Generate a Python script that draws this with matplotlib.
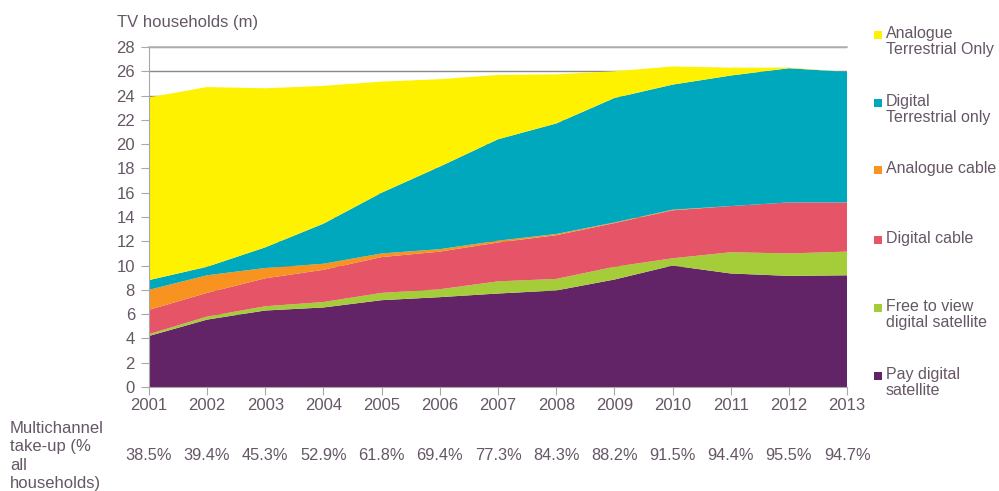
import matplotlib
matplotlib.use("Agg")
import matplotlib.pyplot as plt
from matplotlib.patches import Rectangle

plt.rcParams['font.family'] = ['Liberation Sans', 'DejaVu Sans']

years = [2001, 2002, 2003, 2004, 2005, 2006, 2007, 2008, 2009, 2010, 2011, 2012, 2013]

# Households by platform, millions (stacked bottom to top)
pay_digital_sat = [4.2, 5.55, 6.3, 6.55, 7.15, 7.4, 7.7, 7.95, 8.85, 10.0, 9.35, 9.15, 9.2]
free_digital_sat = [0.15, 0.25, 0.35, 0.45, 0.6, 0.65, 1.0, 0.95, 1.05, 0.6, 1.75, 1.85, 1.95]
digital_cable = [2.0, 1.95, 2.3, 2.65, 2.95, 3.1, 3.2, 3.6, 3.6, 3.95, 3.8, 4.2, 4.05]
analogue_cable = [1.65, 1.45, 0.85, 0.5, 0.3, 0.2, 0.15, 0.1, 0.05, 0.05, 0.0, 0.0, 0.0]
digital_terr = [0.8, 0.7, 1.7, 3.3, 5.0, 6.8, 8.35, 9.1, 10.25, 10.3, 10.75, 11.05, 10.75]
analogue_terr = [15.05, 14.8, 13.1, 11.35, 9.15, 7.2, 5.3, 4.05, 2.2, 1.5, 0.65, 0.05, 0.0]

takeup = ["38.5%", "39.4%", "45.3%", "52.9%", "61.8%", "69.4%", "77.3%",
          "84.3%", "88.2%", "91.5%", "94.4%", "95.5%", "94.7%"]

series_labels = ["Pay digital\nsatellite", "Free to view\ndigital satellite", "Digital cable",
                 "Analogue cable", "Digital\nTerrestrial only", "Analogue\nTerrestrial Only"]
colors = ["#622466", "#a5cd39", "#e55467", "#f7931e", "#00a8bd", "#fff200"]

text_col = "#655766"

fig = plt.figure(figsize=(9.99, 4.91), dpi=100)
ax = fig.add_axes([0.149, 0.2118, 0.699, 0.6925])

ax.stackplot(years, pay_digital_sat, free_digital_sat, digital_cable, analogue_cable,
             digital_terr, analogue_terr, colors=colors, linewidth=0, zorder=2)

ax.set_xlim(2001, 2013)
ax.set_ylim(0, 28)
ax.set_yticks(range(0, 29, 2))
ax.set_xticks(years)
ax.set_xticklabels([str(y) for y in years])

ax.yaxis.grid(True, color="#8a8a8a", linewidth=1.0, zorder=1)
ax.set_axisbelow(True)
ax.axhline(28, color="#b4b4b4", linewidth=1.2, zorder=3, clip_on=False)

for s in ["top", "right"]:
    ax.spines[s].set_visible(False)
ax.spines["left"].set_color("#a8a8a8")
ax.spines["bottom"].set_color("#a8a8a8")
ax.spines["bottom"].set_zorder(4)
ax.tick_params(axis="both", colors="#a8a8a8", labelcolor=text_col, labelsize=12,
               direction="out", length=6)
ax.tick_params(axis="x", pad=2)
ax.tick_params(axis="y", pad=4)

fig.text(0.117, 0.955, "TV households (m)", color=text_col, fontsize=12, ha="left", va="center")

# Multichannel take-up row
fig.text(0.010, 1 - 456 / 491, "Multichannel\ntake-up (%\nall\nhouseholds)", color=text_col,
         fontsize=12, ha="left", va="center", linespacing=1.26)
for yr, t in zip(years, takeup):
    ax.annotate(t, xy=(yr, 0), xycoords=("data", "axes fraction"),
                xytext=(0, -49), textcoords="offset points",
                ha="center", va="center", color=text_col, fontsize=11.8)

# Legend, top entry first
legend_y = [35, 103, 170, 240, 308, 376]
order = [5, 4, 3, 2, 1, 0]
W, H = 999.0, 491.0
for yp, i in zip(legend_y, order):
    fig.patches.append(Rectangle((874 / W, 1 - (yp + 4) / H), 8 / W, 8 / H,
                                 transform=fig.transFigure, facecolor=colors[i],
                                 edgecolor="none"))
    fig.text(886 / W, 1 - (yp - 9) / H, series_labels[i], color=text_col, fontsize=11.5,
             ha="left", va="top", linespacing=1.1)

fig.savefig("out.png", dpi=100)
